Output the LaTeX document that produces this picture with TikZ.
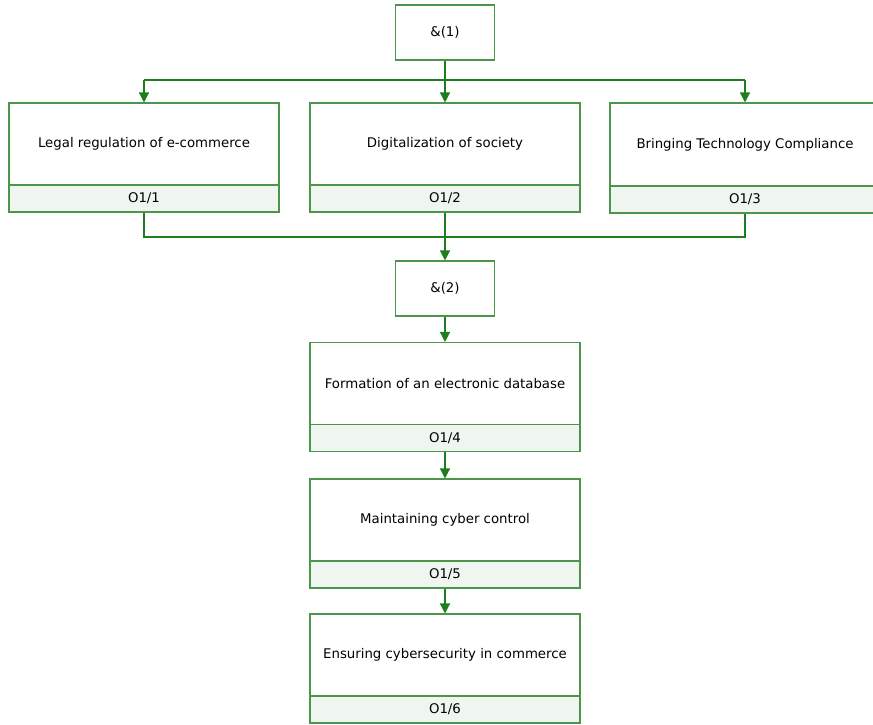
\documentclass[tikz,border=0pt]{standalone}
\usepackage{fontspec}
\setmainfont{DejaVu Sans}
\usetikzlibrary{arrows.meta}
\definecolor{linegreen}{RGB}{30,125,30}
\definecolor{boxgreen}{RGB}{75,150,75}
\definecolor{idfill}{RGB}{239,245,239}

\begin{document}
\begin{tikzpicture}[x=1pt,y=-1pt,font=\fontsize{13.3}{15}\selectfont]

  \tikzstyle{andbox}=[draw=boxgreen,line width=1.1pt,minimum width=99pt,minimum height=55pt,inner sep=0pt]
  \tikzstyle{task}=[draw=boxgreen,line width=1.1pt,minimum width=270pt,minimum height=82pt,inner sep=0pt]
  \tikzstyle{taskid}=[task,fill=idfill,minimum height=27pt]
  \tikzstyle{flow}=[draw=linegreen,line width=1.3pt]
  \tikzstyle{arr}=[flow,-{Triangle[width=10pt,length=10pt]}]

  \useasboundingbox (0,0) rectangle (873,724);

  \node[andbox] (and1) at (445,32.5) {\&(1)};

  \node[task] (reg) at (144,144) {Legal regulation of e-commerce};
  \node[taskid] (regid) at (144,198.5) {O1/1};
  \node[task] (dig) at (445,144) {Digitalization of society};
  \node[taskid] (digid) at (445,198.5) {O1/2};
  \node[task,minimum height=83pt] (comp) at (745,144.5) {Bringing Technology Compliance};
  \node[taskid] (compid) at (745,199.5) {O1/3};

  \node[andbox] (and2) at (445,288.5) {\&(2)};

  \node[task] (base) at (445,383.5) {Formation of an electronic database};
  \node[taskid] (baseid) at (445,438) {O1/4};
  \node[task] (cyber) at (445,520) {Maintaining cyber control};
  \node[taskid] (cyberid) at (445,574.5) {O1/5};
  \node[task] (secure) at (445,655) {Ensuring cybersecurity in commerce};
  \node[taskid] (secureid) at (445,709.5) {O1/6};

  \coordinate (bus1) at (445,80);
  \coordinate (bus2) at (445,237);

  % fan out
  \draw[arr] (and1.south) -- (dig.north);
  \draw[flow] (reg.north |- bus1) -- (comp.north |- bus1);
  \draw[arr] (reg.north |- bus1) -- (reg.north);
  \draw[arr] (comp.north |- bus1) -- (comp.north);

  % join
  \draw[flow] (regid.south) -- (regid.south |- bus2) -- (compid.south |- bus2) -- (compid.south);
  \draw[arr] (digid.south) -- (and2.north);

  \draw[arr] (and2) -- (base);
  \draw[arr] (baseid) -- (cyber);
  \draw[arr] (cyberid) -- (secure);

\end{tikzpicture}
\end{document}
